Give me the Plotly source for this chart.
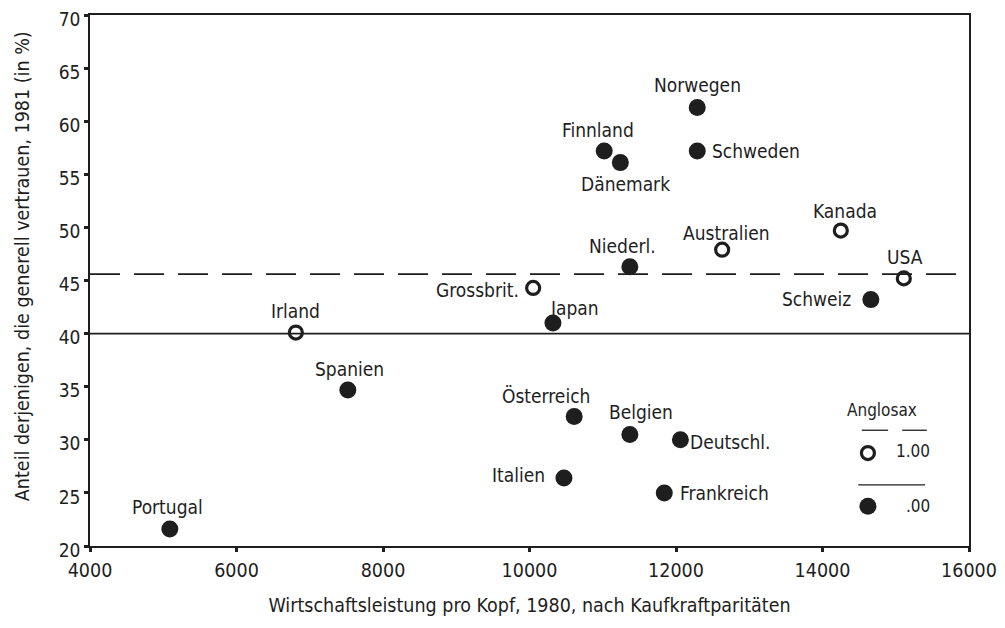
import plotly.graph_objects as go

# ---- data ----
countries = ["Portugal", "Irland", "Spanien", "Grossbrit.", "Japan", "Österreich",
             "Italien", "Belgien", "Niederl.", "Finnland", "Dänemark", "Norwegen",
             "Schweden", "Australien", "Deutschl.", "Frankreich", "Kanada", "USA", "Schweiz"]
gdp = [5090, 6810, 7520, 10050, 10320, 10610,
       10470, 11370, 11370, 11020, 11240, 12290,
       12290, 12630, 12060, 11840, 14250, 15110, 14660]
trust = [21.6, 40.1, 34.7, 44.3, 41.0, 32.2,
         26.4, 30.5, 46.3, 57.2, 56.1, 61.3,
         57.2, 47.9, 30.0, 25.0, 49.7, 45.2, 43.2]
anglosax = [0, 1, 0, 1, 0, 0,
            0, 0, 0, 0, 0, 0,
            0, 1, 0, 0, 1, 1, 0]
mean_line = 45.6
ref_line = 40

x_ticks = [4000, 6000, 8000, 10000, 12000, 14000, 16000]
x_ticktext = ["4000", "6000", "8000", "10000", "12000", "14000", "16000"]
y_ticks = [20, 25, 30, 35, 40, 45, 50, 55, 60, 65, 70]
y_ticktext = [str(v) for v in y_ticks]

x_title = "Wirtschaftsleistung pro Kopf, 1980, nach Kaufkraftparitäten"
y_title = "Anteil derjenigen, die generell vertrauen, 1981 (in %)"
legend_title = "Anglosax"
legend_labels = ["1.00", ".00"]

# label placement (xshift, yshift, xanchor) -- styling only
label_pos = {
    "Norwegen": (0, 22, "center"), "Finnland": (-6, 21, "center"),
    "Dänemark": (5, -21, "center"), "Schweden": (13, 0, "left"),
    "Niederl.": (-7, 21, "center"), "Australien": (4, 17, "center"),
    "Kanada": (4, 20, "center"), "USA": (1, 21, "center"),
    "Schweiz": (-18, 1, "right"), "Grossbrit.": (-12, -2, "right"),
    "Japan": (22, 15, "center"), "Irland": (0, 22, "center"),
    "Spanien": (2, 21, "center"), "Österreich": (-28, 20, "center"),
    "Belgien": (11, 22, "center"), "Deutschl.": (8, -2, "left"),
    "Italien": (-17, 3, "right"), "Frankreich": (14, 0, "left"),
    "Portugal": (-2, 22, "center"),
}

FONT = "DejaVu Sans Condensed, Liberation Sans Narrow, sans-serif"
INK = "#1e1e1e"

fig = go.Figure()

ang_x = [g for g, a in zip(gdp, anglosax) if a == 1]
ang_y = [t for t, a in zip(trust, anglosax) if a == 1]
oth_x = [g for g, a in zip(gdp, anglosax) if a == 0]
oth_y = [t for t, a in zip(trust, anglosax) if a == 0]

fig.add_trace(go.Scatter(
    x=ang_x, y=ang_y, mode="markers", name=legend_labels[0],
    marker=dict(symbol="circle", size=13, color="white",
                line=dict(color=INK, width=3.2)),
))
fig.add_trace(go.Scatter(
    x=oth_x, y=oth_y, mode="markers", name=legend_labels[1],
    marker=dict(symbol="circle", size=17, color=INK, line=dict(width=0)),
))

for c, g, t in zip(countries, gdp, trust):
    dx, dy, anc = label_pos[c]
    fig.add_annotation(x=g, y=t, text=c, showarrow=False, xshift=dx, yshift=dy,
                       xanchor=anc, yanchor="middle",
                       font=dict(family=FONT, size=19, color=INK))

# reference lines
fig.add_shape(type="line", xref="paper", x0=0, x1=1, yref="y", y0=mean_line, y1=mean_line,
              line=dict(color=INK, width=1.6, dash="30px,14px"))
fig.add_shape(type="line", xref="paper", x0=0, x1=1, yref="y", y0=ref_line, y1=ref_line,
              line=dict(color=INK, width=1.6))

# y-axis title as rotated annotation (placed like the original)
fig.add_annotation(xref="paper", yref="paper", x=-0.0774, y=0.527, text=y_title,
                   textangle=-90, showarrow=False, xanchor="center", yanchor="middle",
                   font=dict(family=FONT, size=19.5, color=INK))

# ---- hand-drawn SPSS-style legend (paper coordinates) ----
lfont = dict(family=FONT, size=17, color=INK)
fig.add_annotation(xref="paper", yref="paper", x=0.901, y=0.256, text=legend_title,
                   showarrow=False, xanchor="center", yanchor="middle", font=lfont)
for x0, x1 in [(0.878, 0.908), (0.924, 0.952)]:
    fig.add_shape(type="line", xref="paper", yref="paper", x0=x0, x1=x1, y0=0.218, y1=0.218,
                  line=dict(color=INK, width=1.3))
fig.add_shape(type="line", xref="paper", yref="paper", x0=0.874, x1=0.950, y0=0.115, y1=0.115,
              line=dict(color=INK, width=1.3))
fig.add_shape(type="circle", xref="paper", yref="paper", xsizemode="pixel", ysizemode="pixel",
              xanchor=0.885, yanchor=0.175, x0=-6.5, x1=6.5, y0=-6.5, y1=6.5,
              fillcolor="white", line=dict(color=INK, width=3.2))
fig.add_shape(type="circle", xref="paper", yref="paper", xsizemode="pixel", ysizemode="pixel",
              xanchor=0.885, yanchor=0.075, x0=-8.5, x1=8.5, y0=-8.5, y1=8.5,
              fillcolor=INK, line=dict(width=0))
fig.add_annotation(xref="paper", yref="paper", x=0.958, y=0.179, text=legend_labels[0],
                   showarrow=False, xanchor="right", yanchor="middle", font=lfont)
fig.add_annotation(xref="paper", yref="paper", x=0.958, y=0.075, text=legend_labels[1],
                   showarrow=False, xanchor="right", yanchor="middle", font=lfont)

fig.update_layout(
    width=997, height=620,
    margin=dict(l=82, r=36, t=7, b=82),
    paper_bgcolor="white", plot_bgcolor="white",
    font=dict(family=FONT, size=17, color=INK),
    showlegend=False,
    xaxis=dict(
        range=[4000, 16000], tickvals=x_ticks, ticktext=x_ticktext,
        ticks="outside", ticklen=4, tickwidth=3, automargin=False,
        ticklabeloverflow="allow", ticklabelstandoff=2,
        tickcolor=INK, showline=True, mirror=True, linecolor=INK, linewidth=1.6,
        showgrid=False, zeroline=False,
        title=dict(text=x_title, font=dict(family=FONT, size=19.5, color=INK), standoff=17),
        tickfont=dict(family=FONT, size=19.5, color=INK),
    ),
    yaxis=dict(
        range=[20, 70], tickvals=y_ticks, ticktext=y_ticktext,
        ticks="outside", ticklen=4, tickwidth=3, automargin=False,
        ticklabeloverflow="allow", ticklabelshift=4,
        tickcolor=INK, showline=True, mirror=True, linecolor=INK, linewidth=1.6,
        showgrid=False, zeroline=False,
        tickfont=dict(family=FONT, size=19, color=INK),
    ),
)

fig.write_html("out.html")
